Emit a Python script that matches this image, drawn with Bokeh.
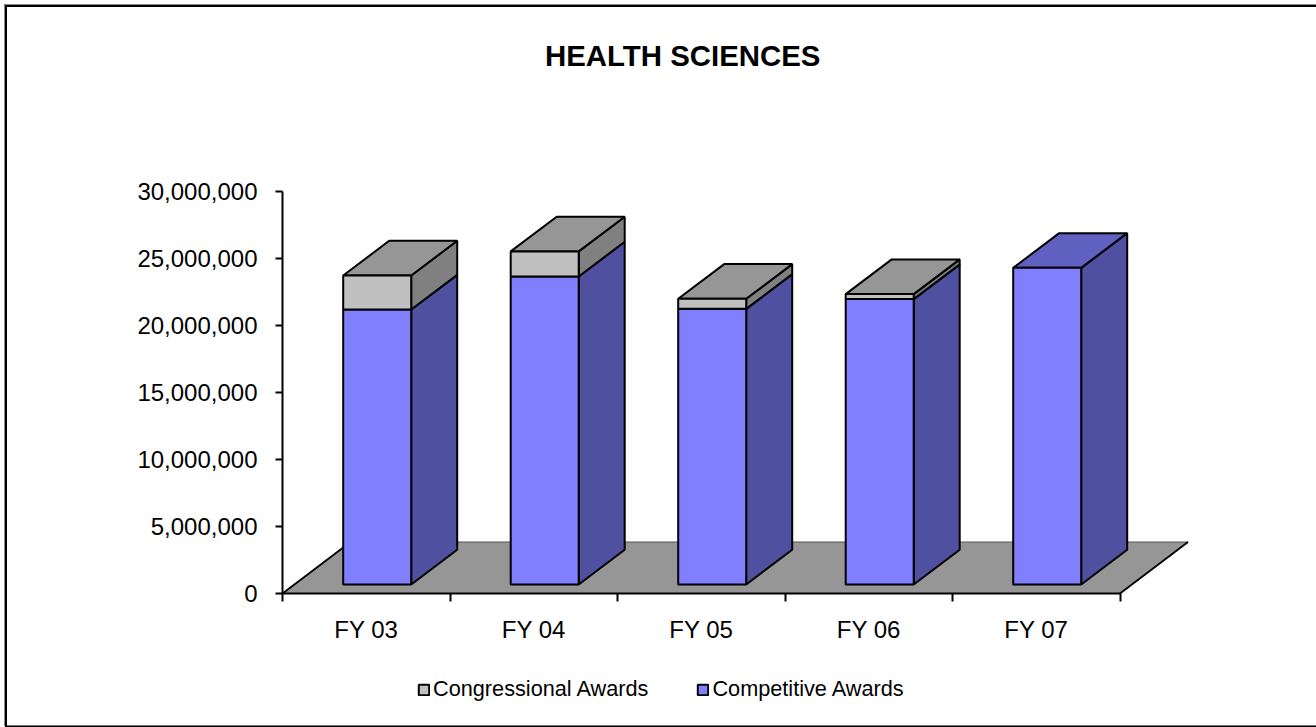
from bokeh.plotting import figure
from bokeh.models import (LinearAxis, FixedTicker, NumeralTickFormatter, Range1d, Legend, LegendItem,
                          Title, ColumnDataSource)
from bokeh.embed import file_html
from bokeh.resources import INLINE

# ---- data
categories = ["FY 03", "FY 04", "FY 05", "FY 06", "FY 07"]
competitive = [20520000, 22990000, 20570000, 21300000, 23630000]
congressional = [2540000, 1870000, 750000, 370000, 0]
y_ticks = [0, 5000000, 10000000, 15000000, 20000000, 25000000, 30000000]

FONT = "Liberation Sans"
W, H = 1316, 727
PX_X = 167.5            # px per category slot
PX_Y = 13.4 / 1e6       # px per unit of value
X0_PX, Y0_PX = 282, 593   # origin inside the figure
FRAME_TOP = 74

# 3-D projection, in data units
BAR_LEFT = 60.7 / PX_X
BAR_W = 68 / PX_X
BASE = 9 / PX_Y
DEPTH_X = 46 / PX_X
DEPTH_Y = 34.7 / PX_Y
FLOOR_X = 68 / PX_X
FLOOR_Y = 51.5 / PX_Y
N = len(categories)

p = figure(width=W, height=H, output_backend="svg", toolbar_location=None,
           x_axis_location=None, y_axis_location=None,
           x_range=Range1d(-X0_PX / PX_X, (W - X0_PX) / PX_X),
           y_range=Range1d((Y0_PX - H) / PX_Y, (Y0_PX - FRAME_TOP) / PX_Y),
           min_border=0, min_border_top=FRAME_TOP, outline_line_color=None,
           border_fill_alpha=0, background_fill_alpha=0, tools="")
p.grid.visible = False

# outer chart border, open on the right as in the reference
def band(x, y, w, h, c):
    return f"linear-gradient({c},{c}) {x} {y} / {w} {h} no-repeat"
p.styles = {"background": ", ".join([
    band("5px", "5px", "2px", "721px", "#000"), band("4px", "4px", "1px", "722px", "#888"),
    band("5px", "5px", "100%", "2px", "#000"), band("4px", "4px", "100%", "1px", "#888"),
    band("5px", "726px", "100%", "1px", "#000"), band("5px", "725px", "100%", "1px", "#777"),
]) + ", #fff"}

p.title = Title(text="HEALTH SCIENCES", align="left", offset=544.5, text_font=FONT,
                text_font_size="29.4px", text_font_style="bold", text_color="black", standoff=6)

EDGE = dict(line_color="black", line_width=2)

# floor
p.patch([0, FLOOR_X, N + FLOOR_X, N], [0, FLOOR_Y, FLOOR_Y, 0], fill_color="#969696",
        line_color="#555555", line_width=1)
p.multi_line([[0, FLOOR_X], [N, N + FLOOR_X]], [[0, FLOOR_Y], [0, FLOOR_Y]], line_color="black", line_width=1.8)


def faces(lo, hi):
    fx, sx, sy, fy = [], [], [], []
    for i in range(N):
        if hi[i] <= lo[i]:
            continue
        l, r = i + BAR_LEFT, i + BAR_LEFT + BAR_W
        fx.append([l, r, r, l]); fy.append([lo[i], lo[i], hi[i], hi[i]])
        sx.append([r, r + DEPTH_X, r + DEPTH_X, r])
        sy.append([lo[i], lo[i] + DEPTH_Y, hi[i] + DEPTH_Y, hi[i]])
    return fx, fy, sx, sy


comp_lo = [BASE] * N
comp_hi = [BASE + v for v in competitive]
cong_hi = [a + b for a, b in zip(comp_hi, congressional)]

cfx, cfy, csx, csy = faces(comp_lo, comp_hi)
gfx, gfy, gsx, gsy = faces(comp_hi, cong_hi)

p.patches(csx, csy, fill_color="#5050A0", **EDGE)
p.patches(gsx, gsy, fill_color="#808080", **EDGE)

tx, ty, tc = [], [], []
for i in range(N):
    l = i + BAR_LEFT
    r = l + BAR_W
    tx.append([l, r, r + DEPTH_X, l + DEPTH_X])
    ty.append([cong_hi[i], cong_hi[i], cong_hi[i] + DEPTH_Y, cong_hi[i] + DEPTH_Y])
    tc.append("#969696" if congressional[i] > 0 else "#6060C0")
p.patches(xs="tx", ys="ty", fill_color="tc", source=ColumnDataSource(dict(tx=tx, ty=ty, tc=tc)), **EDGE)

comp_r = p.patches(cfx, cfy, fill_color="#8080FF", **EDGE)
cong_r = p.patches(gfx, gfy, fill_color="#C0C0C0", **EDGE)

# axes
yax = LinearAxis(fixed_location=0, bounds=(y_ticks[0], y_ticks[-1]), ticker=FixedTicker(ticks=y_ticks),
                 formatter=NumeralTickFormatter(format="0,0"), major_tick_out=7, major_tick_in=0,
                 minor_tick_line_color=None, major_label_standoff=18, axis_line_width=2,
                 major_tick_line_width=2, major_label_text_font=FONT, major_label_text_font_size="24px",
                 major_label_text_color="black", axis_line_color="black", major_tick_line_color="black")
p.add_layout(yax, "left")

xax = LinearAxis(fixed_location=0, bounds=(0, N), ticker=FixedTicker(ticks=list(range(N + 1))),
                 major_label_text_font_size="0px", major_label_text_color=None, major_tick_out=8, major_tick_in=0,
                 minor_tick_line_color=None, axis_line_width=2, major_tick_line_width=2,
                 axis_line_color="black", major_tick_line_color="black")
p.add_layout(xax, "below")

lab = LinearAxis(fixed_location=0, ticker=FixedTicker(ticks=[i + 0.5 for i in range(N)]),
                 major_label_overrides={i + 0.5: c for i, c in enumerate(categories)},
                 axis_line_color=None, major_tick_line_color=None, minor_tick_line_color=None,
                 major_label_standoff=16, major_label_text_font=FONT, major_label_text_font_size="24px",
                 major_label_text_color="black")
p.add_layout(lab, "below")

legend = Legend(items=[LegendItem(label="Congressional Awards", renderers=[cong_r]),
                       LegendItem(label="Competitive Awards", renderers=[comp_r])],
                orientation="horizontal", location=(417, 25), padding=0, margin=0, spacing=48,
                glyph_width=13, glyph_height=13, label_standoff=3, border_line_color=None,
                background_fill_alpha=0, label_text_font=FONT, label_text_font_size="21.7px",
                label_text_color="black")
p.add_layout(legend, "center")

open("out.html", "w").write(file_html(p, INLINE))
